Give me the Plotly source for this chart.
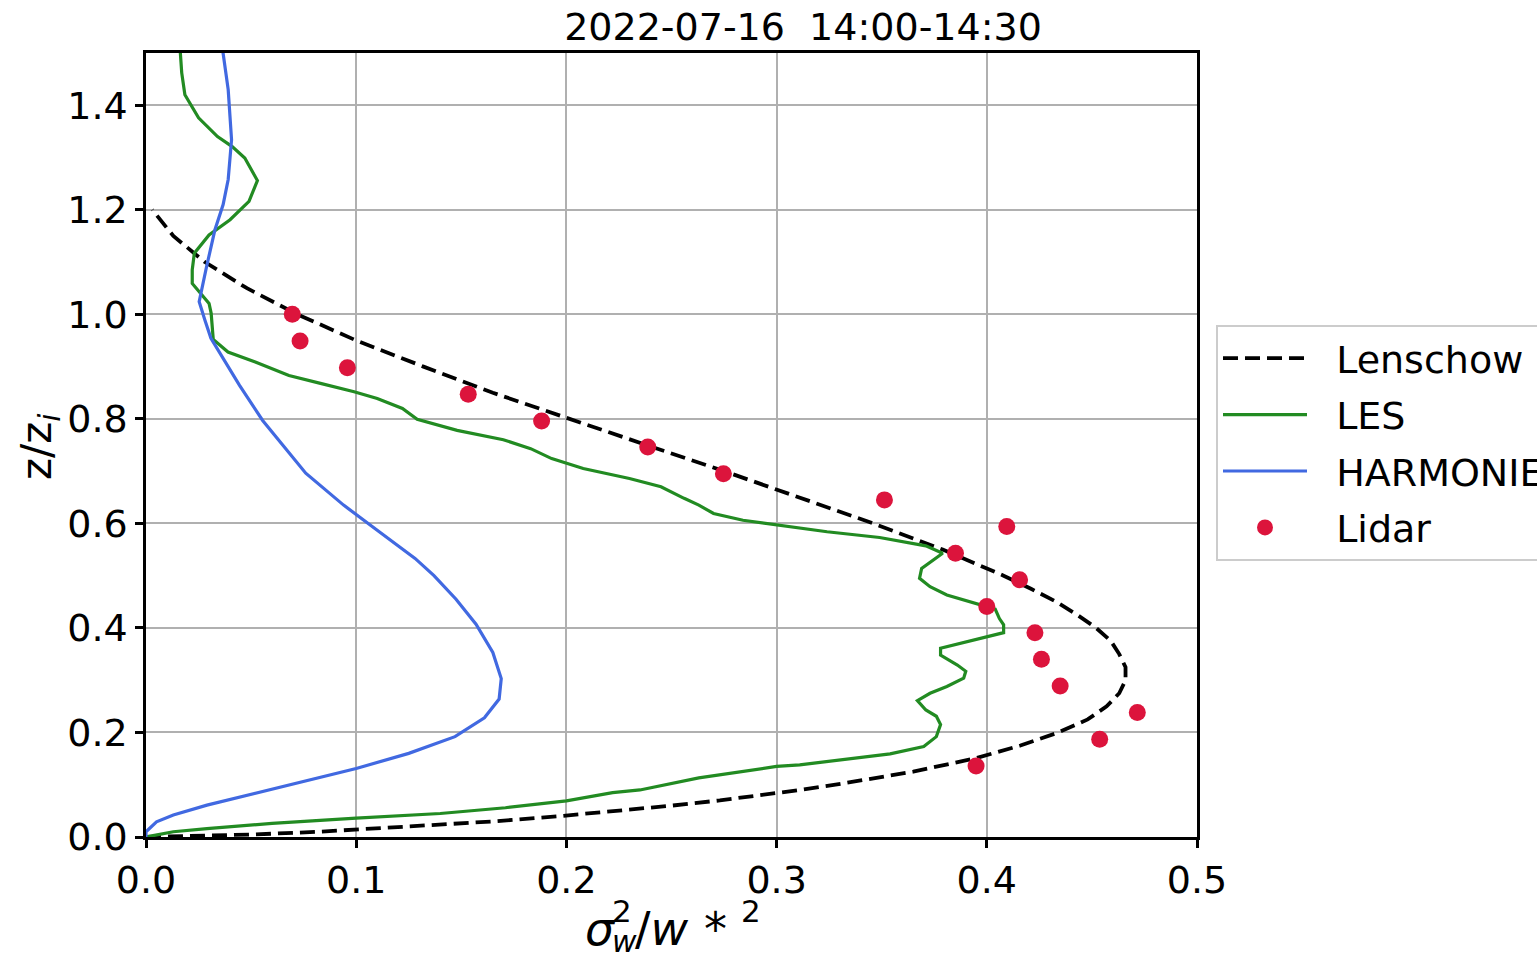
import plotly.graph_objects as go

# ---- data ----
lenschow_z = [0.0, 0.005, 0.01, 0.02, 0.03, 0.04, 0.05, 0.06, 0.07, 0.08, 0.09, 0.10, 0.125, 0.15, 0.175,
              0.20, 0.225, 0.25, 0.275, 0.30, 0.325, 0.35, 0.375, 0.40, 0.425, 0.45, 0.475,
              0.50, 0.55, 0.60, 0.65, 0.70, 0.75, 0.80, 0.85, 0.90, 0.95, 1.00, 1.05, 1.10, 1.15, 1.20]
lenschow_x = [0.0, 0.052, 0.082, 0.128, 0.166, 0.197, 0.225, 0.250, 0.273, 0.293, 0.311, 0.328, 0.365, 0.394, 0.416,
              0.434, 0.448, 0.457, 0.463, 0.466, 0.466, 0.463, 0.459, 0.452, 0.443, 0.433, 0.421,
              0.408, 0.379, 0.346, 0.311, 0.275, 0.238, 0.201, 0.165, 0.132, 0.100, 0.072, 0.048, 0.028, 0.013, 0.003]

les_x = [0.000, 0.013, 0.029, 0.060, 0.100, 0.140, 0.171, 0.200, 0.222, 0.235, 0.263, 0.284, 0.300, 0.311,
         0.331, 0.354, 0.370, 0.376, 0.378, 0.376, 0.371, 0.367, 0.373, 0.381, 0.389, 0.390, 0.386, 0.378,
         0.378, 0.385, 0.400, 0.408, 0.408, 0.406, 0.404, 0.395, 0.381, 0.373, 0.368, 0.369, 0.377, 0.379,
         0.371, 0.349, 0.324, 0.300, 0.284, 0.270, 0.263, 0.256, 0.245, 0.230, 0.208, 0.193, 0.183, 0.170,
         0.148, 0.129, 0.122, 0.110, 0.099, 0.083, 0.068, 0.052, 0.039, 0.032, 0.031, 0.030, 0.022, 0.022,
         0.023, 0.030, 0.040, 0.049, 0.053, 0.047, 0.041, 0.034, 0.025, 0.0185, 0.017, 0.016]
les_z = [0.000, 0.010, 0.016, 0.026, 0.036, 0.045, 0.056, 0.069, 0.085, 0.090, 0.113, 0.125, 0.135, 0.138,
         0.148, 0.159, 0.173, 0.192, 0.215, 0.231, 0.243, 0.261, 0.275, 0.288, 0.304, 0.317, 0.329, 0.348,
         0.361, 0.368, 0.382, 0.391, 0.406, 0.418, 0.436, 0.447, 0.463, 0.479, 0.495, 0.514, 0.536, 0.543,
         0.557, 0.573, 0.584, 0.597, 0.606, 0.619, 0.635, 0.648, 0.670, 0.686, 0.705, 0.724, 0.743, 0.760,
         0.778, 0.799, 0.820, 0.839, 0.852, 0.868, 0.883, 0.909, 0.928, 0.952, 1.002, 1.021, 1.059, 1.085,
         1.117, 1.152, 1.181, 1.216, 1.256, 1.299, 1.321, 1.340, 1.376, 1.420, 1.462, 1.520]

harm_x = [0.000, 0.000, 0.005, 0.013, 0.029, 0.045, 0.068, 0.100, 0.125, 0.147, 0.161, 0.168, 0.169,
          0.165, 0.157, 0.1475, 0.137, 0.128, 0.110, 0.094, 0.076, 0.0645, 0.0555, 0.0445, 0.0309, 0.028,
          0.0253, 0.0288, 0.0328, 0.0367, 0.0391, 0.0407, 0.0391, 0.0367, 0.036]
harm_z = [0.000, 0.010, 0.029, 0.042, 0.061, 0.077, 0.099, 0.131, 0.160, 0.192, 0.228, 0.264, 0.303,
          0.353, 0.407, 0.455, 0.500, 0.533, 0.587, 0.635, 0.696, 0.753, 0.797, 0.864, 0.954, 0.989,
          1.024, 1.091, 1.162, 1.210, 1.258, 1.334, 1.430, 1.499, 1.520]

lidar_x = [0.0696, 0.0733, 0.0958, 0.1533, 0.1882, 0.2387, 0.2747, 0.3513, 0.4095, 0.3851, 0.4156,
           0.4000, 0.4229, 0.4260, 0.4349, 0.4716, 0.4537, 0.3949]
lidar_z = [1.000, 0.949, 0.898, 0.847, 0.796, 0.746, 0.695, 0.645, 0.594, 0.543, 0.492, 0.441,
           0.391, 0.340, 0.289, 0.238, 0.187, 0.136]

x_ticks = [0.0, 0.1, 0.2, 0.3, 0.4, 0.5]
y_ticks = [0.0, 0.2, 0.4, 0.6, 0.8, 1.0, 1.2, 1.4]

FONT = "DejaVu Sans"
FS = 38
NB = "\u00a0\u00a0"

fig = go.Figure()
fig.add_trace(go.Scatter(x=lenschow_x, y=lenschow_z, mode="lines", name=NB + "Lenschow", legendgroup="a",
                         line=dict(color="black", width=3.8, dash="15px,7px")))
fig.add_trace(go.Scatter(x=les_x, y=les_z, mode="lines", name=NB + "LES", legendgroup="b",
                         line=dict(color="#228b22", width=3.2)))
fig.add_trace(go.Scatter(x=harm_x, y=harm_z, mode="lines", name=NB + "HARMONIE", legendgroup="c",
                         line=dict(color="#4169e1", width=3.2)))
fig.add_trace(go.Scatter(x=lidar_x, y=lidar_z, mode="markers", name=NB + "Lidar", legendgroup="d",
                         marker=dict(color="#dc143c", size=17, line=dict(width=0))))

axis_common = dict(showgrid=True, gridcolor="#b0b0b0", gridwidth=2,
                   showline=True, linecolor="black", linewidth=2.5, mirror=True,
                   ticks="outside", ticklen=8, tickwidth=2.5, tickcolor="black",
                   tickfont=dict(family=FONT, size=FS, color="black"),
                   zeroline=False, tickformat=".1f")

fig.update_xaxes(range=[0, 0.5], tickvals=x_ticks, **axis_common)
fig.update_yaxes(range=[0, 1.5], tickvals=y_ticks, **axis_common)

W0, H0, PW, PH = 146, 837, 1051, 784


def px(xp):
    return (xp - W0) / PW


def py(yp):
    return (H0 - yp) / PH


def ann(text, x, y, size, xanchor="left", angle=0):
    return dict(text=text, xref="paper", yref="paper", x=px(x), y=py(y), xanchor=xanchor,
                yanchor="middle", textangle=angle, showarrow=False, borderpad=0,
                font=dict(family=FONT, size=size, color="black"))


annotations = [
    ann("z/z<sub><i>i</i></sub>", 39, 447, 42, xanchor="center", angle=-90),
    ann("<i>σ</i>", 584, 929, 46),
    ann("2", 611, 911, 31),
    ann("<i>w</i>", 611, 941, 30),
    ann("/<i>w</i>", 634, 929, 46),
    ann("*", 703, 929, 46),
    ann("2", 740, 911, 31),
]

fig.update_layout(
    width=1537, height=956,
    margin=dict(l=146, r=340, t=53, b=119, autoexpand=False),
    paper_bgcolor="white", plot_bgcolor="white",
    font=dict(family=FONT, size=FS, color="black"),
    title=dict(text="2022-07-16  14:00-14:30", x=803/1537, xanchor="center",
               y=1 - 27/956, yanchor="middle", yref="container",
               font=dict(family=FONT, size=FS, color="black")),
    showlegend=True,
    legend=dict(x=px(1216), y=py(325), xanchor="left", yanchor="top",
                bordercolor="#cccccc", borderwidth=2, bgcolor="white",
                font=dict(family=FONT, size=FS, color="black"),
                itemwidth=84, tracegroupgap=4, traceorder="grouped"),
    annotations=annotations,
)

fig.write_html("out.html")
